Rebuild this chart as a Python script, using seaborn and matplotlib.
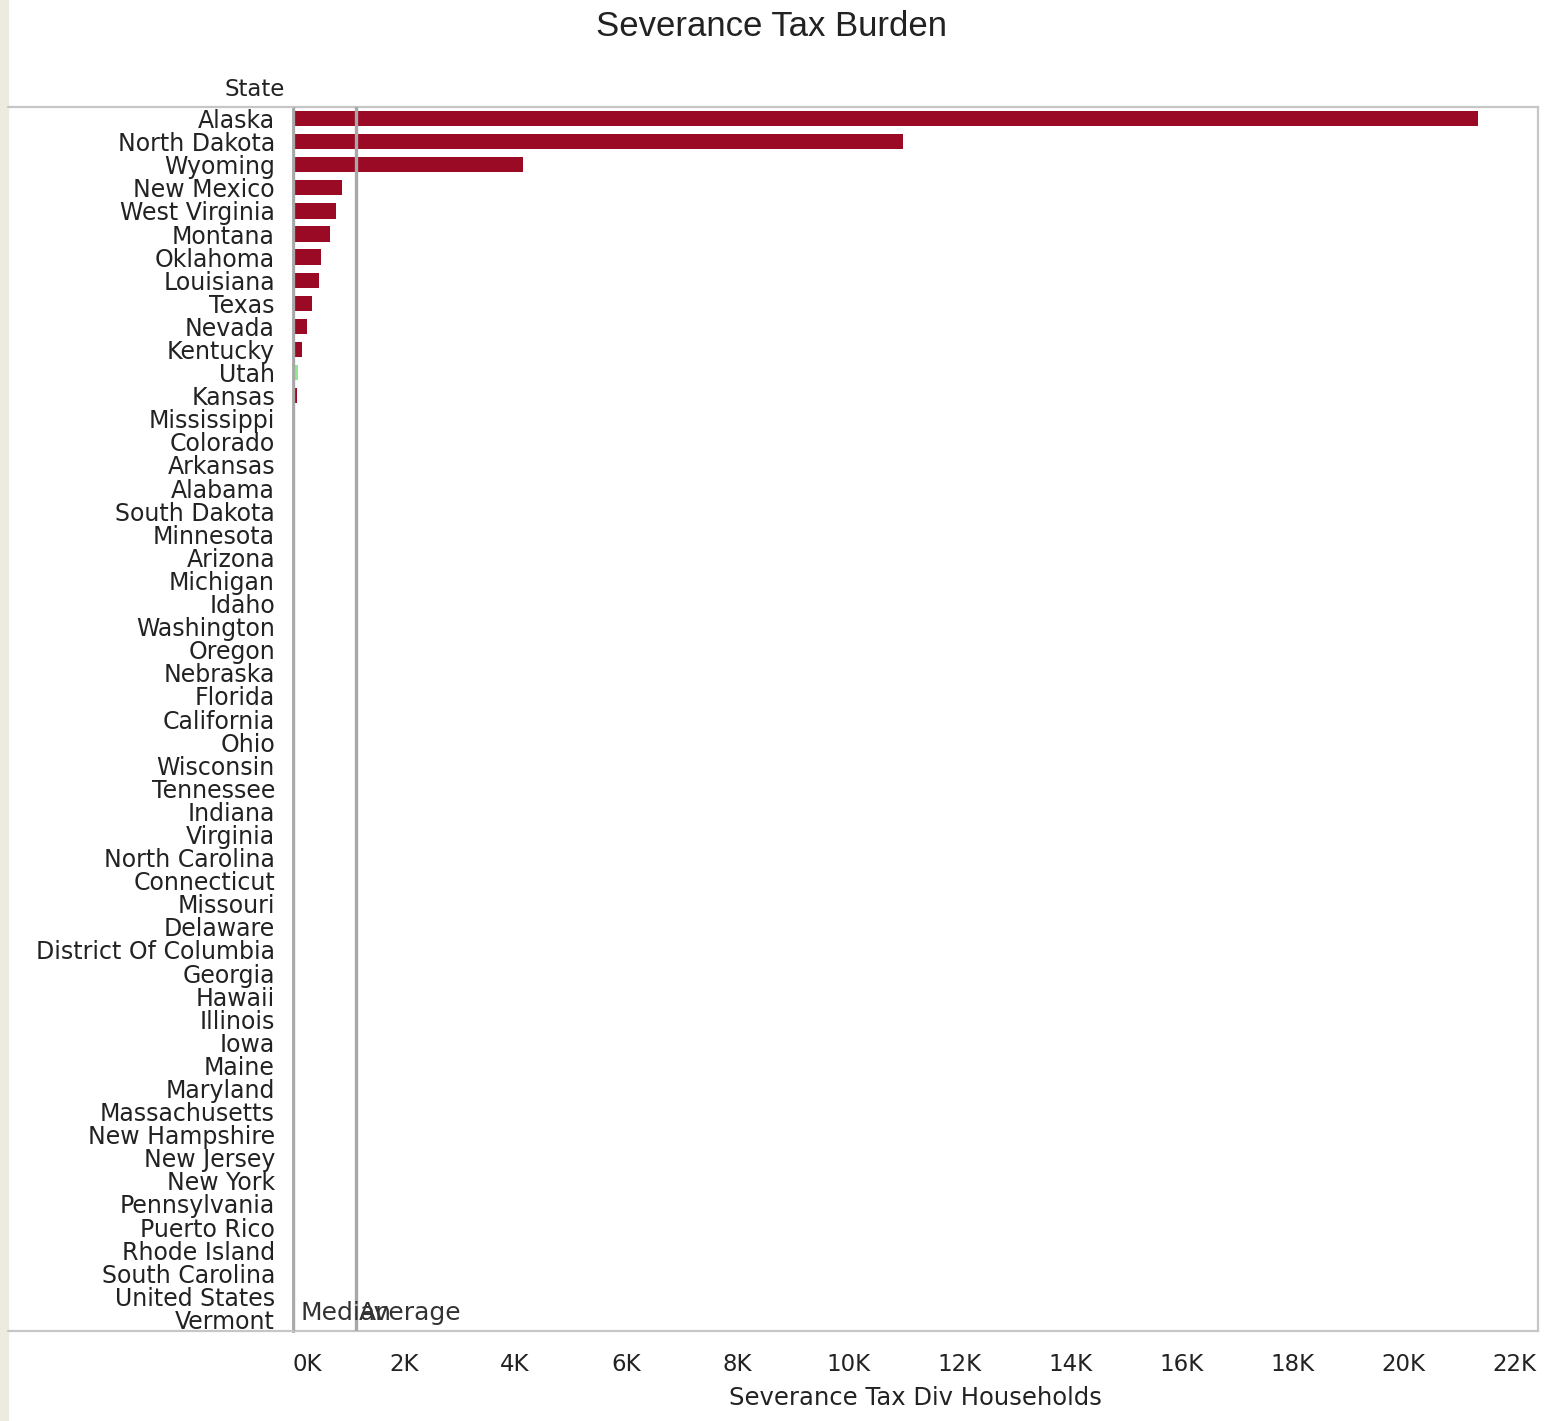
import matplotlib
matplotlib.use("Agg")
import matplotlib.pyplot as plt
from matplotlib.lines import Line2D
from matplotlib.patches import Rectangle
import pandas as pd
import seaborn as sns

# --- data ---
states = [
    "Alaska", "North Dakota", "Wyoming", "New Mexico", "West Virginia", "Montana",
    "Oklahoma", "Louisiana", "Texas", "Nevada", "Kentucky", "Utah", "Kansas",
    "Mississippi", "Colorado", "Arkansas", "Alabama", "South Dakota", "Minnesota",
    "Arizona", "Michigan", "Idaho", "Washington", "Oregon", "Nebraska", "Florida",
    "California", "Ohio", "Wisconsin", "Tennessee", "Indiana", "Virginia",
    "North Carolina", "Connecticut", "Missouri", "Delaware", "District Of Columbia",
    "Georgia", "Hawaii", "Illinois", "Iowa", "Maine", "Maryland", "Massachusetts",
    "New Hampshire", "New Jersey", "New York", "Pennsylvania", "Puerto Rico",
    "Rhode Island", "South Carolina", "United States", "Vermont",
]
tax_per_household = [
    21350, 10990, 4140, 880, 770, 670, 500, 460, 340, 250, 170, 90, 80,
    0, 0, 0, 0, 0, 0, 0, 0, 0, 0, 0, 0, 0, 0, 0, 0, 0, 0, 0, 0, 0, 0, 0,
    0, 0, 0, 0, 0, 0, 0, 0, 0, 0, 0, 0, 0, 0, 0, 0, 0,
]
bar_group = ["highlight" if s == "Utah" else "main" for s in states]

median_value = 0
average_value = 1140
x_ticks = list(range(0, 22001, 2000))
x_tick_labels = [f"{t // 1000}K" for t in x_ticks]

df = pd.DataFrame({"State": states, "Tax": tax_per_household, "Group": bar_group})

sns.set_style("white")
plt.rcParams["font.family"] = ["DejaVu Sans"]

W, H = 1554, 1421
fig = plt.figure(figsize=(W / 100, H / 100), dpi=100)
fig.patch.set_facecolor("white")
fig.add_artist(Rectangle((0, 0), 8 / W, 1, transform=fig.transFigure,
                         color="#EDEBE0", zorder=0))

ax = fig.add_axes([293 / W, 1 - 1331 / H, (1538 - 293) / W, (1331 - 107) / H])
sns.barplot(data=df, x="Tax", y="State", hue="Group", order=states,
            palette={"main": "#9B0A24", "highlight": "#8FEA8F"},
            dodge=False, legend=False, width=0.66, saturation=1,
            linewidth=0, ax=ax)

ax.set_xlim(0, 22430)
ax.set_ylim(len(states) - 0.5, -0.5)

# reference lines (median sits on the zero line, average a bit to the right)
for val in (median_value, average_value):
    ax.axvline(val, color="#A8A8A8", lw=2.4, zorder=3)
ax.annotate("Median", xy=(median_value, 0), xycoords=("data", "axes fraction"),
            xytext=(5.5, 4), textcoords="offset points", fontsize=18,
            color="#333333", ha="left", va="bottom")
ax.annotate("Average", xy=(average_value, 0), xycoords=("data", "axes fraction"),
            xytext=(1.5, 4), textcoords="offset points", fontsize=18,
            color="#333333", ha="left", va="bottom")

# frame
for side in ("top", "bottom", "right"):
    ax.spines[side].set_color("#C6C6C6")
    ax.spines[side].set_linewidth(1.6)
ax.spines["left"].set_color("#A6A6A6")
ax.spines["left"].set_linewidth(2.0)
for yy in (107, 1331):
    fig.add_artist(Line2D([8 / W, 293 / W], [1 - yy / H] * 2, color="#C6C6C6", lw=1.6))

ax.set_xticks(x_ticks, x_tick_labels)
ax.tick_params(axis="x", length=9, width=1.2, color="#B4B4B4", labelsize=16.5,
               labelcolor="#222222", pad=7)
ax.tick_params(axis="y", length=0, labelsize=17, labelcolor="#222222", pad=13)
ax.get_xticklabels()[0].set_ha("left")
ax.set_xlabel("Severance Tax Div Households", fontsize=17.5, color="#222222", labelpad=7)
ax.set_ylabel("")

fig.text(285 / W, 1 - 90 / H, "State", ha="right", va="center", fontsize=16.5, color="#222222")
fig.text(771 / W, 1 - 26 / H, "Severance Tax Burden", ha="center", va="center",
         fontsize=25, color="#222222", family="Liberation Sans")

fig.savefig("out.png", dpi=100)
plt.close()
